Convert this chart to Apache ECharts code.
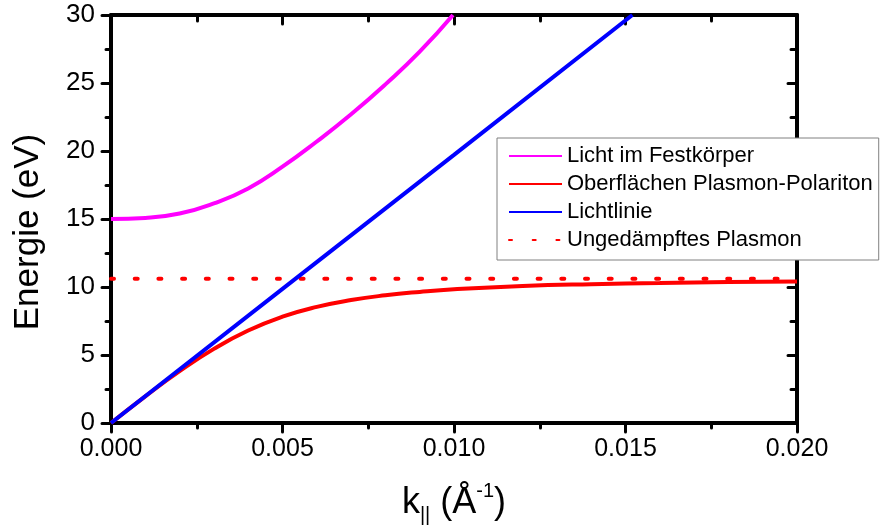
<!DOCTYPE html>
<html>
<head>
<meta charset="utf-8">
<script src="https://cdn.jsdelivr.net/npm/echarts@6/dist/echarts.min.js"></script>
<style>html,body{margin:0;padding:0;background:#fff;}#chart{width:885px;height:530px;}</style>
</head>
<body>
<div id="chart"></div>
<script>
// ---- data ----
const seriesNames = ['Licht im Festkörper', 'Oberflächen Plasmon-Polariton', 'Lichtlinie', 'Ungedämpftes Plasmon'];

const kBulk = [0, 0.001, 0.002, 0.003, 0.004, 0.005, 0.006, 0.007, 0.008, 0.009, 0.00997];
const eBulk = [15.0, 15.08, 15.4, 16.15, 17.25, 18.85, 20.7, 22.7, 24.9, 27.3, 30.0];

const kSPP = [0, 0.001, 0.002, 0.003, 0.004, 0.005, 0.006, 0.007, 0.008, 0.009, 0.010, 0.012, 0.014, 0.016, 0.018, 0.020];
const eSPP = [0, 1.96, 3.81, 5.45, 6.80, 7.82, 8.54, 9.04, 9.39, 9.64, 9.83, 10.07, 10.21, 10.30, 10.37, 10.41];

const kLight = [0, 0.005, 0.010, 0.0152];
const eLight = [0, 9.86, 19.71, 30.0];

const kPlasmon = [0, 0.020];
const ePlasmon = [10.6, 10.6];

const xTicks = { min: 0, max: 0.020, interval: 0.005 };
const yTicks = { min: 0, max: 30, interval: 5 };

// ---- build ----
const zip = (a, b) => a.map((v, i) => [v, b[i]]);
const FONT = 'Liberation Sans, Arial, sans-serif';

const baseAxis = {
  axisLine: { onZero: false, lineStyle: { color: '#000', width: 4 } },
  splitLine: { show: false }
};

const chart = echarts.init(document.getElementById('chart'), null, { renderer: 'canvas' });
chart.setOption({
  animation: false,
  backgroundColor: '#fff',
  grid: { left: 111, right: 88, top: 15, bottom: 105, containLabel: false },
  legend: {
    orient: 'vertical',
    left: 497,
    top: 138,
    padding: [7, 6, 9, 11],
    itemWidth: 53,
    itemHeight: 14,
    itemGap: 6,
    backgroundColor: '#fff',
    borderColor: '#808080',
    borderWidth: 1,
    borderRadius: 0,
    z: 10,
    itemStyle: { opacity: 0, borderWidth: 0 },
    textStyle: { fontFamily: FONT, fontSize: 22, color: '#000', lineHeight: 22 },
    data: seriesNames
  },
  xAxis: [
    Object.assign({}, baseAxis, {
      type: 'value', position: 'bottom',
      min: xTicks.min, max: xTicks.max, interval: xTicks.interval,
      name: '{k|k}{sub|||}{k| (Å}{sup|-1}{k|)}',
      nameLocation: 'middle', nameGap: 58,
      nameTextStyle: {
        rich: {
          k: { fontFamily: FONT, fontSize: 36, color: '#000', lineHeight: 44, verticalAlign: 'middle' },
          sub: { fontFamily: FONT, fontSize: 20, color: '#000', lineHeight: 20, verticalAlign: 'bottom' },
          sup: { fontFamily: FONT, fontSize: 20, color: '#000', lineHeight: 20, verticalAlign: 'top' }
        }
      },
      axisTick: { show: true, inside: false, length: 9, lineStyle: { color: '#000', width: 3, cap: 'round' } },
      minorTick: { show: true, splitNumber: 2, length: 5, lineStyle: { color: '#000', width: 3, cap: 'round' } },
      axisLabel: { fontFamily: FONT, fontSize: 25, color: '#000', margin: 14, formatter: v => v.toFixed(3) }
    }),
    Object.assign({}, baseAxis, {
      type: 'value', position: 'top',
      min: xTicks.min, max: xTicks.max, interval: xTicks.interval,
      axisTick: { show: true, inside: true, length: 9, lineStyle: { color: '#000', width: 3, cap: 'round' } },
      minorTick: { show: true, splitNumber: 2, length: 6, lineStyle: { color: '#000', width: 3, cap: 'round' } },
      axisLabel: { show: false }
    })
  ],
  yAxis: [
    Object.assign({}, baseAxis, {
      type: 'value', position: 'left',
      min: yTicks.min, max: yTicks.max, interval: yTicks.interval,
      name: 'Energie (eV)',
      nameLocation: 'middle', nameGap: 65,
      nameTextStyle: { fontFamily: FONT, fontSize: 35, color: '#000', padding: [0, 26, 0, 0] },
      axisTick: { show: true, inside: false, length: 9, lineStyle: { color: '#000', width: 3, cap: 'round' } },
      minorTick: { show: true, splitNumber: 2, length: 5, lineStyle: { color: '#000', width: 3, cap: 'round' } },
      axisLabel: { fontFamily: FONT, fontSize: 26, color: '#000', margin: 16 }
    }),
    Object.assign({}, baseAxis, {
      type: 'value', position: 'right',
      min: yTicks.min, max: yTicks.max, interval: yTicks.interval,
      axisTick: { show: true, inside: true, length: 9, lineStyle: { color: '#000', width: 3, cap: 'round' } },
      minorTick: { show: true, splitNumber: 2, length: 6, lineStyle: { color: '#000', width: 3, cap: 'round' } },
      axisLabel: { show: false }
    })
  ],
  series: [
    {
      name: seriesNames[0], type: 'line', data: zip(kBulk, eBulk),
      smooth: 0.5, showSymbol: false, symbol: 'none', clip: true,
      color: '#ff00ff', lineStyle: { color: '#ff00ff', width: 4 }, z: 3
    },
    {
      name: seriesNames[1], type: 'line', data: zip(kSPP, eSPP),
      smooth: 0.5, showSymbol: false, symbol: 'none', clip: true,
      color: '#ff0000', lineStyle: { color: '#ff0000', width: 4 }, z: 3
    },
    {
      name: seriesNames[2], type: 'line', data: zip(kLight, eLight),
      showSymbol: false, symbol: 'none', clip: true,
      color: '#0000ff', lineStyle: { color: '#0000ff', width: 4 }, z: 4
    },
    {
      name: seriesNames[3], type: 'line', data: zip(kPlasmon, ePlasmon),
      showSymbol: false, symbol: 'none', clip: true,
      color: '#ff0000', lineStyle: { color: '#ff0000', width: 4, type: [3, 20.7], cap: 'round' }, z: 3
    }
  ]
});
</script>
</body>
</html>
